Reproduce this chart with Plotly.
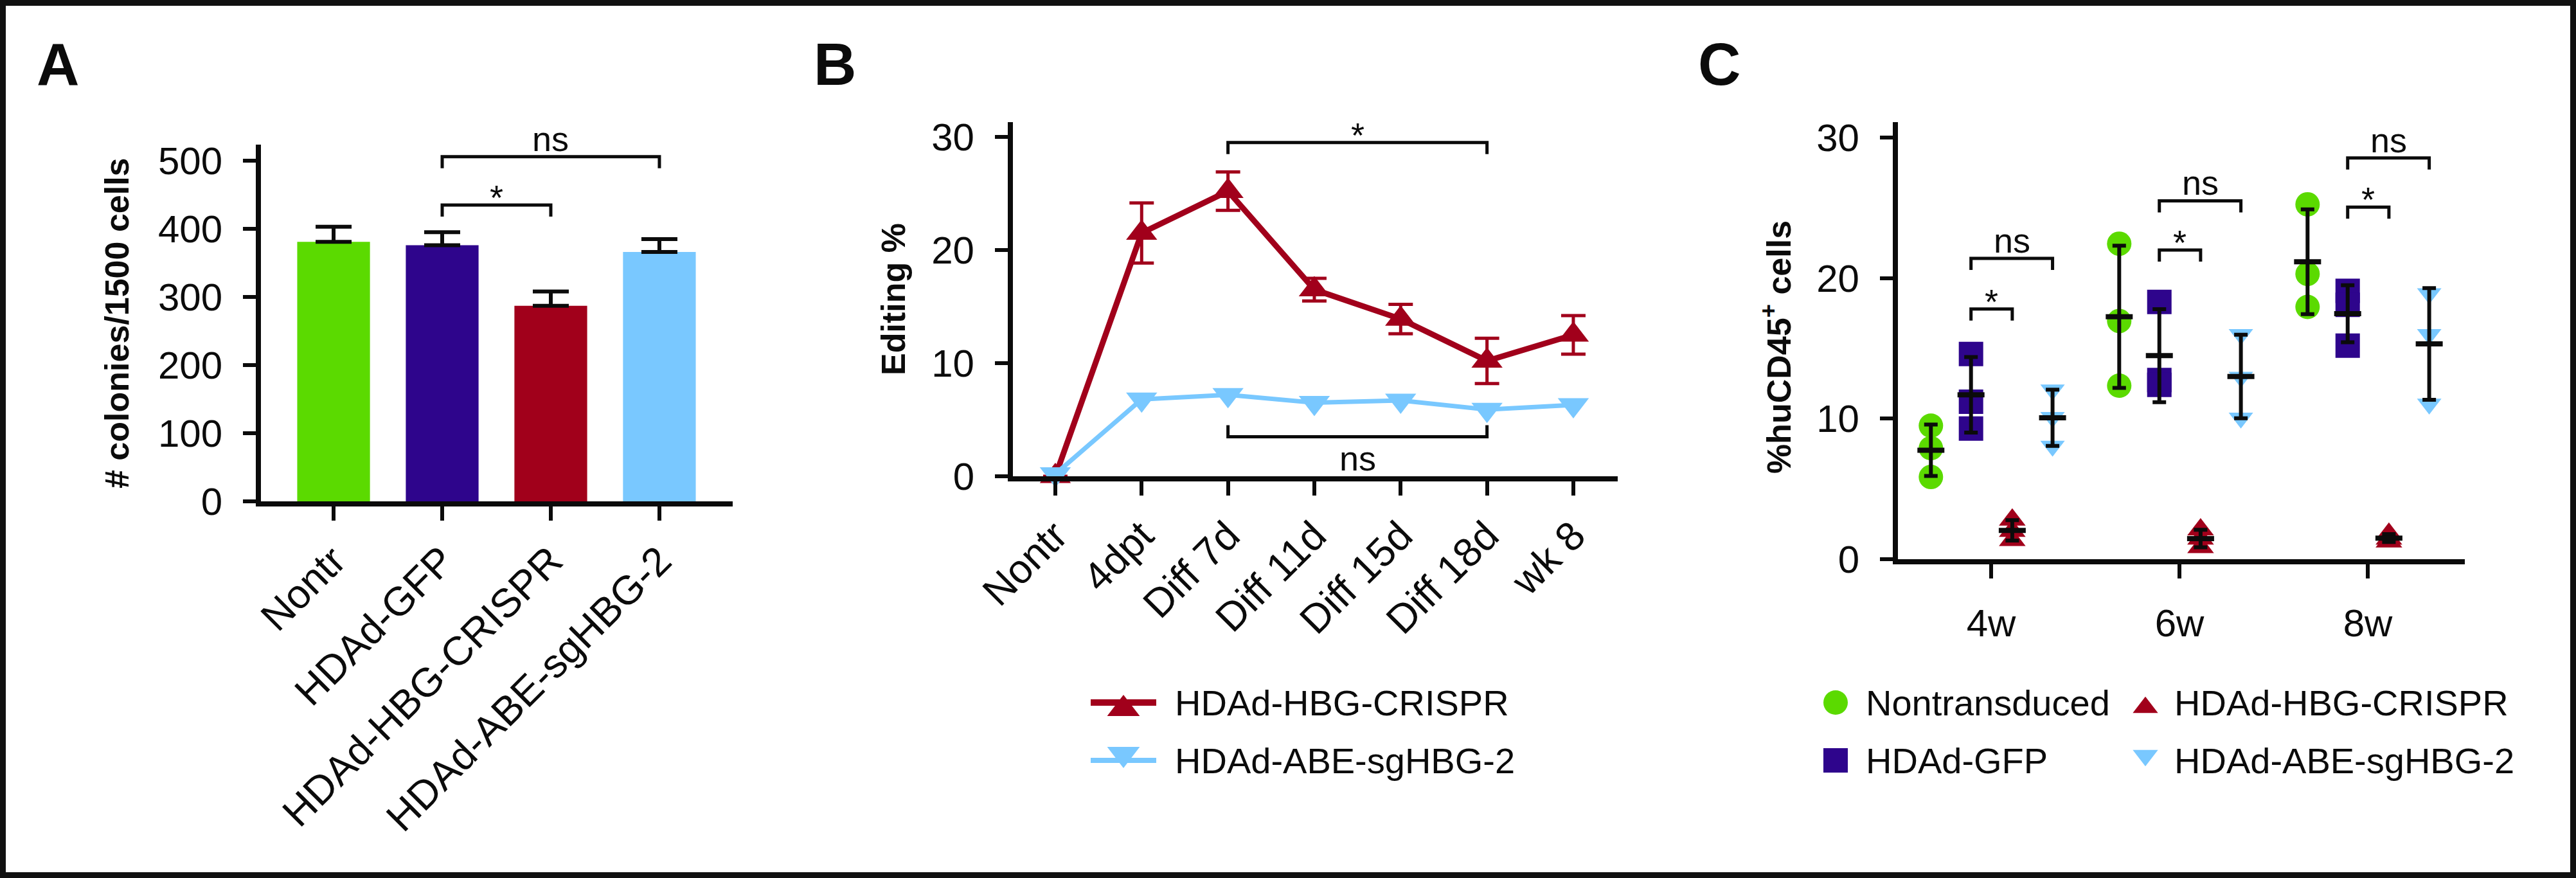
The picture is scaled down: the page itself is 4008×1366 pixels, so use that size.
import numpy as np
import plotly.graph_objects as go

W, H = 4008, 1366

# ---------------- data ----------------
# Panel A: colony counts (mean + SEM)
a_groups = ["Nontr", "HDAd-GFP", "HDAd-HBG-CRISPR", "HDAd-ABE-sgHBG-2"]
a_colonies = [381, 376, 287, 366]
a_sem = [22, 19, 21, 19]
a_ticks = [0, 100, 200, 300, 400, 500]

# Panel B: editing % over time
b_timepoints = ["Nontr", "4dpt", "Diff 7d", "Diff 11d", "Diff 15d", "Diff 18d", "wk 8"]
b_crispr = [0.0, 21.5, 25.2, 16.5, 13.9, 10.2, 12.5]
b_crispr_sem = [0.0, 2.65, 1.7, 1.0, 1.3, 2.0, 1.7]
b_abe = [0.2, 6.8, 7.2, 6.5, 6.7, 5.9, 6.3]
b_ticks = [0, 10, 20, 30]

# Panel C: %huCD45+ cells, three mice per group and week
c_weeks = ["4w", "6w", "8w"]
c_nontransduced = [[9.5, 7.9, 5.85], [22.45, 16.95, 12.35], [25.25, 20.3, 17.95]]
c_gfp = [[14.6, 11.2, 9.3], [18.3, 12.75, 12.4], [19.1, 18.1, 15.2]]
c_crispr = [[2.8, 2.0, 1.35], [2.1, 1.45, 0.85], [1.8, 1.45, 1.25]]
c_abe = [[12.05, 10.1, 8.05], [16.0, 12.95, 10.05], [18.9, 16.0, 11.05]]
c_ticks = [0, 10, 20, 30]

# significance brackets
a_sig = [(1, 2, 435, "*"), (1, 3, 506, "ns")]            # (from cat, to cat, level, label)
b_sig = [(2, 5, 29.5, "*", "down"), (2, 5, 3.5, "ns", "up")]
c_sig = [  # (week, from series, to series, level, label)
    (0, 1, 2, 17.8, "*"), (0, 1, 3, 21.4, "ns"),
    (1, 1, 2, 22.0, "*"), (1, 1, 3, 25.5, "ns"),
    (2, 1, 2, 25.05, "*"), (2, 1, 3, 28.55, "ns"),
]

# ---------------- styles ----------------
GREEN, PURPLE, RED, BLUE, BLACK = "#5BDA00", "#2E058C", "#A1001B", "#79C8FF", "#0B0B0B"
FONT = "Liberation Sans, Arial, Helvetica, sans-serif"
TITLE_FONT = "Liberation Sans, Arial, sans-serif"

def fx(px):
    return px / W

def fy(py):
    return 1 - py / H

fig = go.Figure()

# ---------------- Panel A ----------------
fig.add_trace(go.Bar(
    x=a_groups, y=a_colonies, width=0.67,
    marker=dict(color=[GREEN, PURPLE, RED, BLUE], line=dict(width=0)),
    error_y=dict(type="data", symmetric=False, array=a_sem, arrayminus=[0] * len(a_sem),
                 color=BLACK, thickness=6, width=28),
    xaxis="x", yaxis="y", showlegend=False, cliponaxis=False,
))

# ---------------- Panel B ----------------
fig.add_trace(go.Scatter(
    x=b_timepoints, y=b_crispr, mode="lines+markers", name="HDAd-HBG-CRISPR",
    line=dict(color=RED, width=9),
    marker=dict(symbol="triangle-up", size=42, color=RED),
    error_y=dict(type="data", array=b_crispr_sem, color=RED, thickness=5, width=19),
    cliponaxis=False, xaxis="x2", yaxis="y2", showlegend=False,
))
fig.add_trace(go.Scatter(
    x=b_timepoints, y=b_abe, mode="lines+markers", name="HDAd-ABE-sgHBG-2",
    line=dict(color=BLUE, width=7),
    marker=dict(symbol="triangle-down", size=42, color=BLUE),
    cliponaxis=False, xaxis="x2", yaxis="y2", showlegend=False,
))

# ---------------- Panel C ----------------
c_offsets = [-0.32, -0.107, 0.112, 0.326]
c_series = [
    ("Nontransduced", c_nontransduced, GREEN, "circle", 38),
    ("HDAd-GFP", c_gfp, PURPLE, "square", 38),
    ("HDAd-HBG-CRISPR", c_crispr, RED, "triangle-up", 36),
    ("HDAd-ABE-sgHBG-2", c_abe, BLUE, "triangle-down", 33),
]
for (name, data, col, sym, size), off in zip(c_series, c_offsets):
    xs = [i + off for i, vals in enumerate(data) for _ in vals]
    ys = [v for vals in data for v in vals]
    fig.add_trace(go.Scatter(
        x=xs, y=ys, mode="markers", name=name,
        marker=dict(symbol=sym, size=size, color=col, line=dict(width=0)),
        cliponaxis=False, xaxis="x3", yaxis="y3", showlegend=False,
    ))
for (name, data, col, sym, size), off in zip(c_series, c_offsets):
    means = [float(np.mean(v)) for v in data]
    sds = [float(np.std(v, ddof=1)) for v in data]
    fig.add_trace(go.Scatter(
        x=[i + off for i in range(len(data))], y=means, mode="markers",
        marker=dict(symbol="line-ew", size=30, color=BLACK, line=dict(width=8, color=BLACK)),
        error_y=dict(type="data", array=sds, color=BLACK, thickness=6, width=10.5),
        cliponaxis=False, xaxis="x3", yaxis="y3", showlegend=False, hoverinfo="skip",
    ))

# ---------------- legends (own small subplot under panels B and C) ----------------
LEG_LEFT, LEG_RIGHT = 1600, 3700
LEG_TOP, LEG_BOT = 1030, 1240
LEG_ROWS = (1093, 1183)
LEG_B = dict(line=(1697, 1799), text_x=1826)
LEG_C = dict(cols=((2856, 2901), (3338, 3381)))

def tri_center(sym, size):
    # shift so the triangle's bounding box is centred on the row
    if sym == "triangle-up":
        return 0.229 * size
    if sym == "triangle-down":
        return -0.229 * size
    return 0.0

for row, (col, sym, name, lw) in zip(LEG_ROWS, [(RED, "triangle-up", "HDAd-HBG-CRISPR", 10),
                                                 (BLUE, "triangle-down", "HDAd-ABE-sgHBG-2", 8)]):
    fig.add_trace(go.Scatter(x=list(LEG_B["line"]), y=[row, row], mode="lines",
                             line=dict(color=col, width=lw), xaxis="x4", yaxis="y4",
                             showlegend=False, hoverinfo="skip", cliponaxis=False))
    fig.add_trace(go.Scatter(x=[sum(LEG_B["line"]) / 2], y=[row + tri_center(sym, 44)], mode="markers",
                             marker=dict(symbol=sym, size=44, color=col), xaxis="x4", yaxis="y4",
                             showlegend=False, hoverinfo="skip", cliponaxis=False))
    fig.add_annotation(x=fx(LEG_B["text_x"]), y=fy(row), xref="paper", yref="paper", text=name,
                       showarrow=False, xanchor="left", yanchor="middle",
                       font=dict(family=FONT, size=56, color=BLACK))

c_leg_layout = [(0, 0), (1, 0), (0, 1), (1, 1)]  # Nontransduced, GFP, CRISPR, ABE -> (row, col)
for (name, data, col, sym, size), (r, c) in zip(c_series, c_leg_layout):
    mx, tx = LEG_C["cols"][c]
    row = LEG_ROWS[r]
    lsize = 34 if "triangle" in sym else 38
    fig.add_trace(go.Scatter(x=[mx], y=[row + tri_center(sym, lsize)], mode="markers",
                             marker=dict(symbol=sym, size=lsize, color=col, line=dict(width=0)),
                             xaxis="x4", yaxis="y4", showlegend=False, hoverinfo="skip",
                             cliponaxis=False))
    fig.add_annotation(x=fx(tx), y=fy(row), xref="paper", yref="paper", text=name,
                       showarrow=False, xanchor="left", yanchor="middle",
                       font=dict(family=FONT, size=56, color=BLACK))

# ---------------- brackets ----------------
shapes = []
annos = []

def bracket(xref, yref, x0, x1, level, label, direction="down"):
    d = -18 if direction == "down" else 18
    shapes.append(dict(type="path", xref=xref, yref=yref, ysizemode="pixel", yanchor=level,
                       path=f"M{x0},{d} L{x0},0 L{x1},0 L{x1},{d}",
                       line=dict(color=BLACK, width=5)))
    if direction == "down":
        shift = -20 if label == "*" else -4
        annos.append(dict(x=(x0 + x1) / 2, y=level, xref=xref, yref=yref, text=label,
                          showarrow=False, yanchor="bottom", yshift=shift,
                          font=dict(family=FONT, size=54, color=BLACK)))
    else:
        annos.append(dict(x=(x0 + x1) / 2, y=level, xref=xref, yref=yref, text=label,
                          showarrow=False, yanchor="top", yshift=-2,
                          font=dict(family=FONT, size=54, color=BLACK)))

for i0, i1, lev, lab in a_sig:
    bracket("x", "y", i0, i1, lev, lab)
for i0, i1, lev, lab, dr in b_sig:
    bracket("x2", "y2", i0, i1, lev, lab, dr)
for wk, s0, s1, lev, lab in c_sig:
    bracket("x3", "y3", wk + c_offsets[s0], wk + c_offsets[s1], lev, lab)

# border
shapes.append(dict(type="rect", xref="paper", yref="paper", x0=0, x1=1, y0=0, y1=1,
                   line=dict(color="#111111", width=18)))

# panel letters
for letter, px in (("A", 55), ("B", 1264), ("C", 2640)):
    annos.append(dict(x=fx(px), y=fy(100), xref="paper", yref="paper", text=f"<b>{letter}</b>",
                      showarrow=False, xanchor="left", yanchor="middle",
                      font=dict(family=FONT, size=92, color=BLACK)))

# y-axis titles
for text, px, py in (("# colonies/1500 cells", 182, 503), ("Editing %", 1390, 466),
                     ("%huCD45<sup>+</sup> cells", 2764, 540)):
    annos.append(dict(x=fx(px), y=fy(py), xref="paper", yref="paper", text=f"<b>{text}</b>",
                      showarrow=False, textangle=-90, xanchor="center", yanchor="middle",
                      font=dict(family=TITLE_FONT, size=52, color=BLACK)))

for a in annos:
    fig.add_annotation(**a)

# ---------------- axes ----------------
common = dict(showline=True, linecolor=BLACK, linewidth=8, ticks="outside", tickcolor=BLACK,
              tickwidth=6, showgrid=False, zeroline=False, fixedrange=True,
              tickfont=dict(family=FONT, size=60, color=BLACK))

fig.update_layout(
    width=W, height=H, margin=dict(l=0, r=0, t=0, b=0, pad=0, autoexpand=False),
    paper_bgcolor="white", plot_bgcolor="rgba(0,0,0,0)", showlegend=False,
    shapes=shapes,
    xaxis=dict(common, domain=[fx(406), fx(1140)], anchor="y", type="category",
               range=[-0.669, 3.675], ticklen=22, tickangle=-45,
               tickfont=dict(family=FONT, size=63, color=BLACK)),
    yaxis=dict(common, domain=[fy(780), fy(225)], anchor="x", range=[0, 523.6],
               tickvals=a_ticks, ticklen=20, ticklabelstandoff=20),
    xaxis2=dict(common, domain=[fx(1576), fx(2517)], anchor="y2", type="category",
                range=[-0.491, 6.514], ticklen=22, tickangle=-45,
                tickfont=dict(family=FONT, size=63, color=BLACK)),
    yaxis2=dict(common, domain=[fy(741), fy(190)], anchor="x2", range=[0, 31.3],
                tickvals=b_ticks, ticklen=20, ticklabelstandoff=20),
    xaxis3=dict(common, domain=[fx(2953), fx(3835)], anchor="y3", range=[-0.495, 2.515],
                tickvals=list(range(len(c_weeks))), ticktext=c_weeks, ticklen=22,
                ticklabelstandoff=18),
    yaxis3=dict(common, domain=[fy(870), fy(190)], anchor="x3", range=[0, 31.1],
                tickvals=c_ticks, ticklen=20, ticklabelstandoff=20),
    xaxis4=dict(domain=[fx(LEG_LEFT), fx(LEG_RIGHT)], range=[LEG_LEFT, LEG_RIGHT], visible=False,
                fixedrange=True, anchor="y4"),
    yaxis4=dict(domain=[fy(LEG_BOT), fy(LEG_TOP)], range=[LEG_BOT, LEG_TOP], visible=False,
                fixedrange=True, anchor="x4"),
)

fig.write_html(
    "out.html",
    config={"displayModeBar": False, "staticPlot": True},
    post_script="document.body.style.margin='0';document.body.style.overflow='hidden';",
)
